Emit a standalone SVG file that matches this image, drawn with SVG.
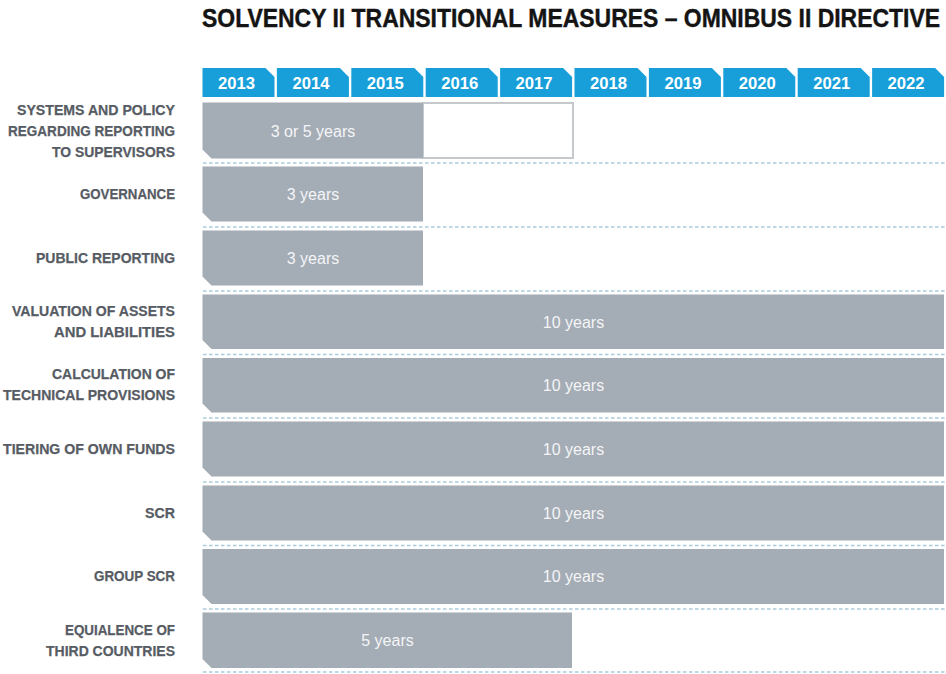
<svg xmlns="http://www.w3.org/2000/svg" width="946" height="674" viewBox="0 0 946 674">
  <defs>
    <style>
      .title { font-family: "Liberation Sans", Arial, sans-serif; font-weight: bold; font-size: 25px; fill: #141414; stroke: #141414; stroke-width: 0.4; }
      .tab { fill: #189fda; }
      .year { font-family: "Liberation Sans", Arial, sans-serif; font-weight: bold; font-size: 17px; fill: #ffffff; text-anchor: middle; }
      .label { font-family: "Liberation Sans", Arial, sans-serif; font-weight: bold; font-size: 14.5px; fill: #575c64; stroke: #575c64; stroke-width: 0.25; text-anchor: end; }
      .bar { fill: #a4acb5; }
      .open { fill: #ffffff; stroke: #c6c9cc; stroke-width: 2; }
      .dur { font-family: "Liberation Sans", Arial, sans-serif; font-size: 16px; fill: #f4f5f7; text-anchor: middle; }
      .rule { stroke: #a9cadb; stroke-width: 1.6; stroke-dasharray: 3.5 2.5; fill: none; }
    </style>
  </defs>

  <rect width="946" height="674" fill="#ffffff"/>

  <text class="title" x="202" y="27" textLength="738" lengthAdjust="spacingAndGlyphs">SOLVENCY II TRANSITIONAL MEASURES – OMNIBUS II DIRECTIVE</text>

  <!-- year header tabs -->
  <g id="years">
    <path class="tab" d="M202.5,68 H265.5 L274.5,77 V97 H202.5 Z"/>
    <path class="tab" d="M276.9,68 H339.9 L348.9,77 V97 H276.9 Z"/>
    <path class="tab" d="M351.3,68 H414.3 L423.3,77 V97 H351.3 Z"/>
    <path class="tab" d="M425.7,68 H488.7 L497.7,77 V97 H425.7 Z"/>
    <path class="tab" d="M500.1,68 H563.1 L572.1,77 V97 H500.1 Z"/>
    <path class="tab" d="M574.5,68 H637.5 L646.5,77 V97 H574.5 Z"/>
    <path class="tab" d="M648.9,68 H711.9 L720.9,77 V97 H648.9 Z"/>
    <path class="tab" d="M723.3,68 H786.3 L795.3,77 V97 H723.3 Z"/>
    <path class="tab" d="M797.7,68 H860.7 L869.7,77 V97 H797.7 Z"/>
    <path class="tab" d="M872.1,68 H935.1 L944.1,77 V97 H872.1 Z"/>
    <text class="year" x="236.5" y="89" textLength="37" lengthAdjust="spacingAndGlyphs">2013</text>
    <text class="year" x="310.9" y="89" textLength="37" lengthAdjust="spacingAndGlyphs">2014</text>
    <text class="year" x="385.3" y="89" textLength="37" lengthAdjust="spacingAndGlyphs">2015</text>
    <text class="year" x="459.7" y="89" textLength="37" lengthAdjust="spacingAndGlyphs">2016</text>
    <text class="year" x="534.1" y="89" textLength="37" lengthAdjust="spacingAndGlyphs">2017</text>
    <text class="year" x="608.5" y="89" textLength="37" lengthAdjust="spacingAndGlyphs">2018</text>
    <text class="year" x="682.9" y="89" textLength="37" lengthAdjust="spacingAndGlyphs">2019</text>
    <text class="year" x="757.3" y="89" textLength="37" lengthAdjust="spacingAndGlyphs">2020</text>
    <text class="year" x="831.7" y="89" textLength="37" lengthAdjust="spacingAndGlyphs">2021</text>
    <text class="year" x="906.1" y="89" textLength="37" lengthAdjust="spacingAndGlyphs">2022</text>
  </g>

  <!-- dotted row separators -->
  <g id="separators">
    <line class="rule" x1="203" y1="163" x2="946" y2="163"/>
    <line class="rule" x1="203" y1="227" x2="946" y2="227"/>
    <line class="rule" x1="203" y1="291" x2="946" y2="291"/>
    <line class="rule" x1="203" y1="354.5" x2="946" y2="354.5"/>
    <line class="rule" x1="203" y1="418" x2="946" y2="418"/>
    <line class="rule" x1="203" y1="482" x2="946" y2="482"/>
    <line class="rule" x1="203" y1="545.5" x2="946" y2="545.5"/>
    <line class="rule" x1="203" y1="609" x2="946" y2="609"/>
    <line class="rule" x1="203" y1="672" x2="946" y2="672"/>
  </g>

  <g id="row-reporting-supervisors">
    <rect class="open" x="423" y="103" width="150" height="55"/>
    <path class="bar" d="M202.5,102.5 H423 V158.5 H211.5 L202.5,149.5 Z"/>
    <text class="dur" x="313" y="137">3 or 5 years</text>
    <text class="label" x="175" y="115" textLength="158" lengthAdjust="spacingAndGlyphs">SYSTEMS AND POLICY</text>
    <text class="label" x="175" y="136" textLength="167" lengthAdjust="spacingAndGlyphs">REGARDING REPORTING</text>
    <text class="label" x="175" y="157" textLength="123" lengthAdjust="spacingAndGlyphs">TO SUPERVISORS</text>
  </g>

  <g id="row-governance">
    <path class="bar" d="M202.5,166.5 H423 V221.5 H211.5 L202.5,212.5 Z"/>
    <text class="dur" x="313" y="200">3 years</text>
    <text class="label" x="175" y="199" textLength="95" lengthAdjust="spacingAndGlyphs">GOVERNANCE</text>
  </g>

  <g id="row-public-reporting">
    <path class="bar" d="M202.5,230.5 H423 V285.5 H211.5 L202.5,276.5 Z"/>
    <text class="dur" x="313" y="264">3 years</text>
    <text class="label" x="175" y="263" textLength="139" lengthAdjust="spacingAndGlyphs">PUBLIC REPORTING</text>
  </g>

  <g id="row-valuation">
    <path class="bar" d="M202.5,294.5 H944 V349 H211.5 L202.5,340 Z"/>
    <text class="dur" x="573.5" y="328">10 years</text>
    <text class="label" x="175" y="316" textLength="163" lengthAdjust="spacingAndGlyphs">VALUATION OF ASSETS</text>
    <text class="label" x="175" y="337" textLength="121" lengthAdjust="spacingAndGlyphs">AND LIABILITIES</text>
  </g>

  <g id="row-technical-provisions">
    <path class="bar" d="M202.5,358 H944 V412.5 H211.5 L202.5,403.5 Z"/>
    <text class="dur" x="573.5" y="391">10 years</text>
    <text class="label" x="175" y="379" textLength="123" lengthAdjust="spacingAndGlyphs">CALCULATION OF</text>
    <text class="label" x="175" y="400" textLength="172" lengthAdjust="spacingAndGlyphs">TECHNICAL PROVISIONS</text>
  </g>

  <g id="row-own-funds">
    <path class="bar" d="M202.5,421.5 H944 V476.5 H211.5 L202.5,467.5 Z"/>
    <text class="dur" x="573.5" y="455">10 years</text>
    <text class="label" x="175" y="454" textLength="172" lengthAdjust="spacingAndGlyphs">TIERING OF OWN FUNDS</text>
  </g>

  <g id="row-scr">
    <path class="bar" d="M202.5,485.5 H944 V540.5 H211.5 L202.5,531.5 Z"/>
    <text class="dur" x="573.5" y="519">10 years</text>
    <text class="label" x="175" y="518" textLength="30" lengthAdjust="spacingAndGlyphs">SCR</text>
  </g>

  <g id="row-group-scr">
    <path class="bar" d="M202.5,549 H944 V604 H211.5 L202.5,595 Z"/>
    <text class="dur" x="573.5" y="582">10 years</text>
    <text class="label" x="175" y="581" textLength="81" lengthAdjust="spacingAndGlyphs">GROUP SCR</text>
  </g>

  <g id="row-third-countries">
    <path class="bar" d="M202.5,612.5 H572 V668 H211.5 L202.5,659 Z"/>
    <text class="dur" x="387.5" y="646">5 years</text>
    <text class="label" x="175" y="635" textLength="110" lengthAdjust="spacingAndGlyphs">EQUIALENCE OF</text>
    <text class="label" x="175" y="656" textLength="129" lengthAdjust="spacingAndGlyphs">THIRD COUNTRIES</text>
  </g>
</svg>
